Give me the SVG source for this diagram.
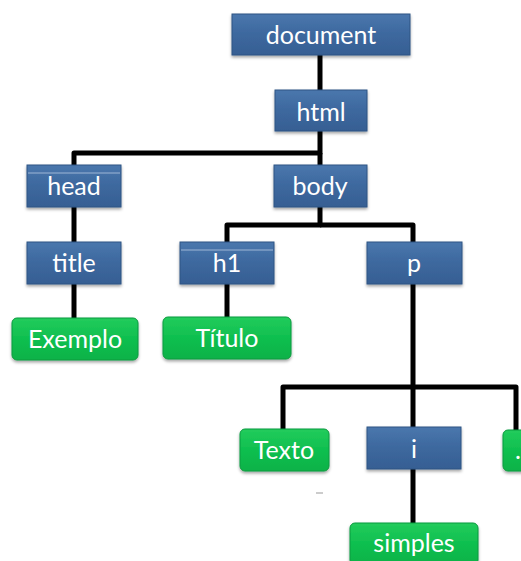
<svg xmlns="http://www.w3.org/2000/svg" width="521" height="561" viewBox="0 0 521 561">
<defs>
<linearGradient id="gb" x1="0" y1="0" x2="0" y2="1">
<stop offset="0" stop-color="#4a77ad"/>
<stop offset="0.5" stop-color="#3d689e"/>
<stop offset="1" stop-color="#365f93"/>
</linearGradient>
<linearGradient id="gg" x1="0" y1="0" x2="0" y2="1">
<stop offset="0" stop-color="#22cc5c"/>
<stop offset="0.5" stop-color="#0fbf4f"/>
<stop offset="1" stop-color="#0cb248"/>
</linearGradient>
<filter id="sh" x="-10%" y="-10%" width="120%" height="140%">
<feDropShadow dx="0" dy="2" stdDeviation="1.5" flood-color="#000" flood-opacity="0.35"/>
</filter>
</defs>
<style>
.b{fill:url(#gb);stroke:#2f5583;stroke-width:1;filter:url(#sh)}
.g{fill:url(#gg);stroke:#0a9a3e;stroke-width:1;filter:url(#sh)}
.t{font-family:Lato,"Open Sans","Liberation Sans",sans-serif;font-size:25px;fill:#ffffff;text-anchor:middle}
.c{fill:none;stroke:#000;stroke-width:5;stroke-linejoin:round;stroke-linecap:butt}
.hl{stroke:#9fb7d6;stroke-width:1}
</style>
<rect width="521" height="561" fill="#ffffff"/>
<g id="connectors">
<path class="c" d="M320 55 V90"/>
<path class="c" d="M320 131 V153 H74 V165"/>
<path class="c" d="M320 153 V165"/>
<path class="c" d="M74 207 V242"/>
<path class="c" d="M74 284 V318"/>
<path class="c" d="M320 207 V225 H227 V242"/>
<path class="c" d="M320 225 H413 V242"/>
<path class="c" d="M227 284 V317"/>
<path class="c" d="M413 284 V427"/>
<path class="c" d="M413 387 H283 V430"/>
<path class="c" d="M413 387 H516 V430"/>
<path class="c" d="M413 469 V523"/>
<line x1="316" y1="493" x2="323" y2="493" stroke="#bbbbbb" stroke-width="1.5"/>
</g>
<g id="n-document"><rect class="b" x="232" y="14" width="178" height="41"/><text class="t" x="321" y="44">document</text></g>
<g id="n-html"><rect class="b" x="275" y="90" width="92" height="41"/><text class="t" x="321" y="121">html</text></g>
<g id="n-head"><rect class="b" x="27" y="165" width="94" height="42"/><line class="hl" x1="28" y1="173" x2="120" y2="173"/><text class="t" x="74" y="195">head</text></g>
<g id="n-body"><rect class="b" x="274" y="165" width="93" height="42"/><text class="t" x="320" y="195">body</text></g>
<g id="n-title"><rect class="b" x="27" y="242" width="94" height="42"/><text class="t" x="74" y="272">title</text></g>
<g id="n-h1"><rect class="b" x="180" y="242" width="94" height="42"/><line class="hl" x1="181" y1="250" x2="273" y2="250"/><text class="t" x="227" y="272">h1</text></g>
<g id="n-p"><rect class="b" x="367" y="242" width="95" height="42"/><text class="t" x="414" y="272">p</text></g>
<g id="n-exemplo"><rect class="g" x="12" y="318" width="126" height="42" rx="5"/><text class="t" x="75" y="348">Exemplo</text></g>
<g id="n-titulo"><rect class="g" x="163" y="317" width="128" height="42" rx="5"/><text class="t" x="227" y="347">Título</text></g>
<g id="n-texto"><rect class="g" x="240" y="429" width="89" height="42" rx="5"/><text class="t" x="284" y="459">Texto</text></g>
<g id="n-i"><rect class="b" x="367" y="427" width="94" height="42"/><text class="t" x="414" y="458">i</text></g>
<g id="n-dots"><rect class="g" x="503" y="430" width="30" height="41" rx="5"/><text class="t" x="518" y="459">.</text></g>
<g id="n-simples"><rect class="g" x="350" y="523" width="128" height="42" rx="5"/><text class="t" x="414" y="552">simples</text></g>
</svg>
